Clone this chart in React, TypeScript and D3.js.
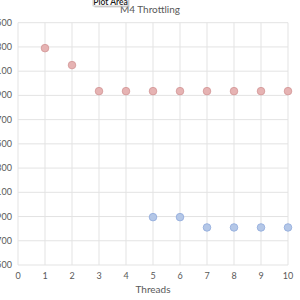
import { useEffect, useRef } from 'react';
import * as d3 from 'd3';

// =============================================================================
// Data
// =============================================================================

const threadsRed = [1, 2, 3, 4, 5, 6, 7, 8, 9, 10];
const valuesRed = [2290, 2150, 1935, 1935, 1935, 1935, 1935, 1935, 1935, 1935];

const threadsBlue = [5, 6, 7, 8, 9, 10];
const valuesBlue = [895, 895, 810, 810, 810, 810];

const xTicks = [0, 1, 2, 3, 4, 5, 6, 7, 8, 9, 10];
const yTicks = [500, 700, 900, 1100, 1300, 1500, 1700, 1900, 2100, 2300, 2500];

const TITLE = 'M4 Throttling';
const X_LABEL = 'Threads';

// =============================================================================
// Constants
// =============================================================================

const WIDTH = 300;
const HEIGHT = 300;
const PLOT = { left: 18, right: 288, top: 22.7, bottom: 265 };
const FONT = 'Lato, "Open Sans", sans-serif';

const colors = {
  grid: '#e3e3e3',
  text: '#595959',
  redFill: '#e6b3b3',
  redStroke: '#d29595',
  blueFill: '#b4c7e7',
  blueStroke: '#8faadc',
};

// =============================================================================
// Component
// =============================================================================

export default function App() {
  const svgRef = useRef<SVGSVGElement>(null);

  useEffect(() => {
    if (!svgRef.current) return;
    const svg = d3.select(svgRef.current);
    svg.selectAll('*').remove();

    const x = d3.scaleLinear().domain([0, 10]).range([PLOT.left, PLOT.right]);
    const y = d3.scaleLinear().domain([500, 2500]).range([PLOT.bottom, PLOT.top]);

    svg.append('rect').attr('width', WIDTH).attr('height', HEIGHT).attr('fill', '#fff');

    // Grid
    svg.selectAll('.hgrid')
      .data(yTicks)
      .enter()
      .append('line')
      .attr('x1', PLOT.left)
      .attr('x2', PLOT.right)
      .attr('y1', (d) => y(d))
      .attr('y2', (d) => y(d))
      .attr('stroke', colors.grid)
      .attr('stroke-width', 1);

    svg.selectAll('.vgrid')
      .data(xTicks)
      .enter()
      .append('line')
      .attr('x1', (d) => x(d))
      .attr('x2', (d) => x(d))
      .attr('y1', PLOT.top)
      .attr('y2', PLOT.bottom)
      .attr('stroke', colors.grid)
      .attr('stroke-width', 1);

    // Y tick labels (left edge is cropped in the original screenshot)
    svg.selectAll('.ylab')
      .data(yTicks)
      .enter()
      .append('text')
      .attr('x', 12)
      .attr('y', (d) => y(d) + 3)
      .attr('text-anchor', 'end')
      .attr('fill', colors.text)
      .attr('font-family', FONT)
      .attr('font-size', '9px')
      .text((d) => d);

    // X tick labels
    svg.selectAll('.xlab')
      .data(xTicks)
      .enter()
      .append('text')
      .attr('x', (d) => x(d))
      .attr('y', PLOT.bottom + 14)
      .attr('text-anchor', 'middle')
      .attr('fill', colors.text)
      .attr('font-family', FONT)
      .attr('font-size', '9px')
      .text((d) => d);

    // Axis title
    svg.append('text')
      .attr('x', (PLOT.left + PLOT.right) / 2)
      .attr('y', PLOT.bottom + 28)
      .attr('text-anchor', 'middle')
      .attr('fill', colors.text)
      .attr('font-family', FONT)
      .attr('font-size', '10px')
      .text(X_LABEL);

    // Series
    svg.selectAll('.red')
      .data(threadsRed)
      .enter()
      .append('circle')
      .attr('cx', (d) => x(d))
      .attr('cy', (_, i) => y(valuesRed[i]))
      .attr('r', 3.8)
      .attr('fill', colors.redFill)
      .attr('stroke', colors.redStroke)
      .attr('stroke-width', 0.8);

    svg.selectAll('.blue')
      .data(threadsBlue)
      .enter()
      .append('circle')
      .attr('cx', (d) => x(d))
      .attr('cy', (_, i) => y(valuesBlue[i]))
      .attr('r', 3.8)
      .attr('fill', colors.blueFill)
      .attr('stroke', colors.blueStroke)
      .attr('stroke-width', 0.8);

    // Title
    svg.append('text')
      .attr('x', 150)
      .attr('y', 12.5)
      .attr('text-anchor', 'middle')
      .attr('fill', colors.text)
      .attr('font-family', FONT)
      .attr('font-size', '10px')
      .text(TITLE);

    // "Plot Area" tooltip
    const tip = svg.append('g');
    tip.append('rect')
      .attr('x', 94.5)
      .attr('y', -3)
      .attr('width', 35)
      .attr('height', 10.5)
      .attr('fill', '#bdbdbd')
      .attr('opacity', 0.6);
    tip.append('rect')
      .attr('x', 93)
      .attr('y', -4)
      .attr('width', 35)
      .attr('height', 10)
      .attr('fill', '#fff')
      .attr('stroke', '#b0b0b0')
      .attr('stroke-width', 0.6);
    tip.append('text')
      .attr('x', 110.5)
      .attr('y', 4.8)
      .attr('text-anchor', 'middle')
      .attr('fill', '#1a1a1a')
      .attr('font-family', FONT)
      .attr('font-weight', 600)
      .attr('font-size', '8.5px')
      .text('Plot Area');
  }, []);

  return (
    <svg
      ref={svgRef}
      width={WIDTH}
      height={HEIGHT}
      style={{ position: 'absolute', left: 0, top: 0 }}
    />
  );
}
